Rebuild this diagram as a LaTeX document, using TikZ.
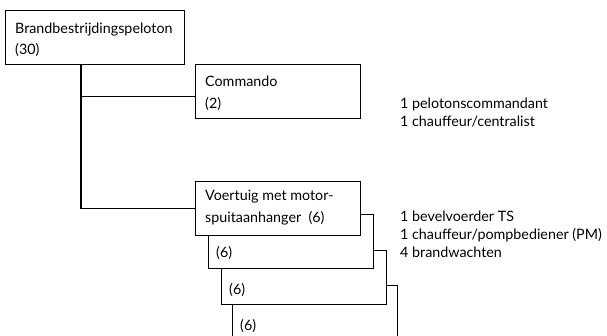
\documentclass[tikz,border=0pt]{standalone}
\usepackage{fontspec}
\setmainfont{Lato}
\usetikzlibrary{positioning, calc}

\begin{document}
\begin{tikzpicture}[
    x=1pt, y=1pt,
    unit/.style={draw, fill=white, line width=0.8pt, minimum width=#1, minimum height=54pt, anchor=north west, inner sep=0pt},
    unit/.default=165pt,
    txt/.style={font=\fontsize{14.3}{21.5}\selectfont, align=left, anchor=north west, inner sep=0pt},
    note/.style={font=\fontsize{14.3}{17.8}\selectfont, align=left, anchor=north west, inner sep=0pt},
    link/.style={line width=1.6pt},
]
\useasboundingbox (0,0) rectangle (607,-335);
\clip (0,0) rectangle (607,-335);

% Top unit
\node[unit=179pt] (peloton) at (5,-10) {};
\node[txt, below right=12.5pt and 10pt of peloton.north west] (pelotontxt) {Brandbestrijdingspeloton\\(30)};

% Commando
\node[unit] (cmd) at (195,-64) {};
\node[txt, below right=12pt and 10pt of cmd.north west] (cmdtxt) {Commando\\(2)};

% Vehicles, back to front
\node[unit] (veh4) at (232,-285) {};
\node[unit] (veh3) at (221,-250) {};
\node[unit] (veh2) at (208,-214) {};
\node[unit] (veh1) at (195,-181) {};
\node[txt, below right=34pt and 8pt of veh4.north west] (veh4txt) {(6)};
\node[txt, below right=33pt and 8pt of veh3.north west] (veh3txt) {(6)};
\node[txt, below right=32pt and 8pt of veh2.north west] (veh2txt) {(6)};
\node[txt, below right=9pt and 10pt of veh1.north west] (veh1txt) {Voertuig met motor-\\spuitaanhanger\ \ (6)};

% Connectors
\coordinate (trunk) at ($(peloton.south west)+(76,0)$);
\coordinate (cmdin) at ($(cmd.west)+(0,-5)$);
\draw[link] (trunk) |- (veh1.west);
\draw[link] (trunk |- cmdin) -- (cmdin);

% Notes
\node[note] (cmdnote) at (400,-98) {1 pelotonscommandant\\1 chauffeur/centralist};
\node[note] (vehnote) at (400,-211) {1 bevelvoerder TS\\1 chauffeur/pompbediener (PM)\\4 brandwachten};

\end{tikzpicture}
\end{document}
